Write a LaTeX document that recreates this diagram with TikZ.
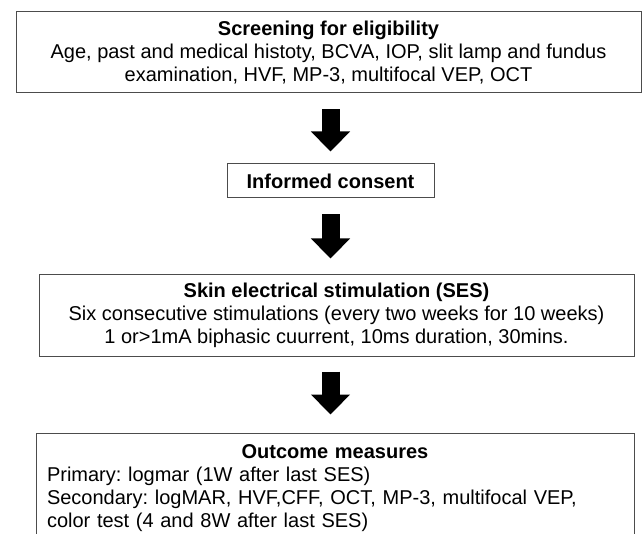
\documentclass[tikz,border=0pt]{standalone}
\usepackage{fontspec}
\setmainfont{Liberation Sans}
\usepackage{tikz}
\frenchspacing
\tikzstyle{block}=[draw=black!70, line width=1pt, align=center, inner sep=0pt, font=\fontsize{20}{23}\selectfont]
\tikzstyle{arrow}=[line width=18pt,-{Triangle[length=20pt,width=38pt]}]
\usetikzlibrary{arrows.meta,positioning,calc}

\begin{document}
\begin{tikzpicture}[node distance=1cm,auto]
\useasboundingbox (0,0) rectangle (642pt,-534pt);
\clip (0,0) rectangle (642pt,-534pt);
\node (screen) [block, minimum width=625pt, minimum height=81pt] at (328.5pt,-52.5pt)
	{\textbf{Screening for eligibility}\\Age, past and medical histoty, BCVA, IOP, slit lamp and fundus\\examination, HVF, MP-3, multifocal VEP, OCT};
\node (consent) [block, below=70pt of screen, xshift=2pt, minimum width=207pt, minimum height=34pt]
	{\textbf{Informed consent}};
\node (ses) [block, below=76pt of consent, xshift=6pt, minimum width=595pt, minimum height=81pt]
	{\textbf{Skin electrical stimulation (SES)}\\Six consecutive stimulations (every two weeks for 10 weeks)\\1 or>1mA biphasic cuurrent, 10ms duration, 30mins.};
\node (outcome) [block, below=76pt of ses, xshift=-1.5pt, align=left, text width=576pt,
		inner xsep=11pt, inner ysep=12pt]
	{\makebox[576pt]{\textbf{Outcome measures}}\\Primary: logmar (1W after last SES)\\Secondary: logMAR, HVF,CFF, OCT, MP-3, multifocal VEP,\\color test (4 and 8W after last SES)\\ \mbox{}\\ \mbox{}};
\draw[arrow, shorten <=16pt, shorten >=12pt] (consent.north |- screen.south)--(consent.north);
\draw[arrow, shorten <=16pt, shorten >=16pt] (consent.south)--(consent.south |- ses.north);
\draw[arrow, shorten <=15pt, shorten >=18pt] (consent.south |- ses.south)--(consent.south |- outcome.north);
\end{tikzpicture}
\end{document}
